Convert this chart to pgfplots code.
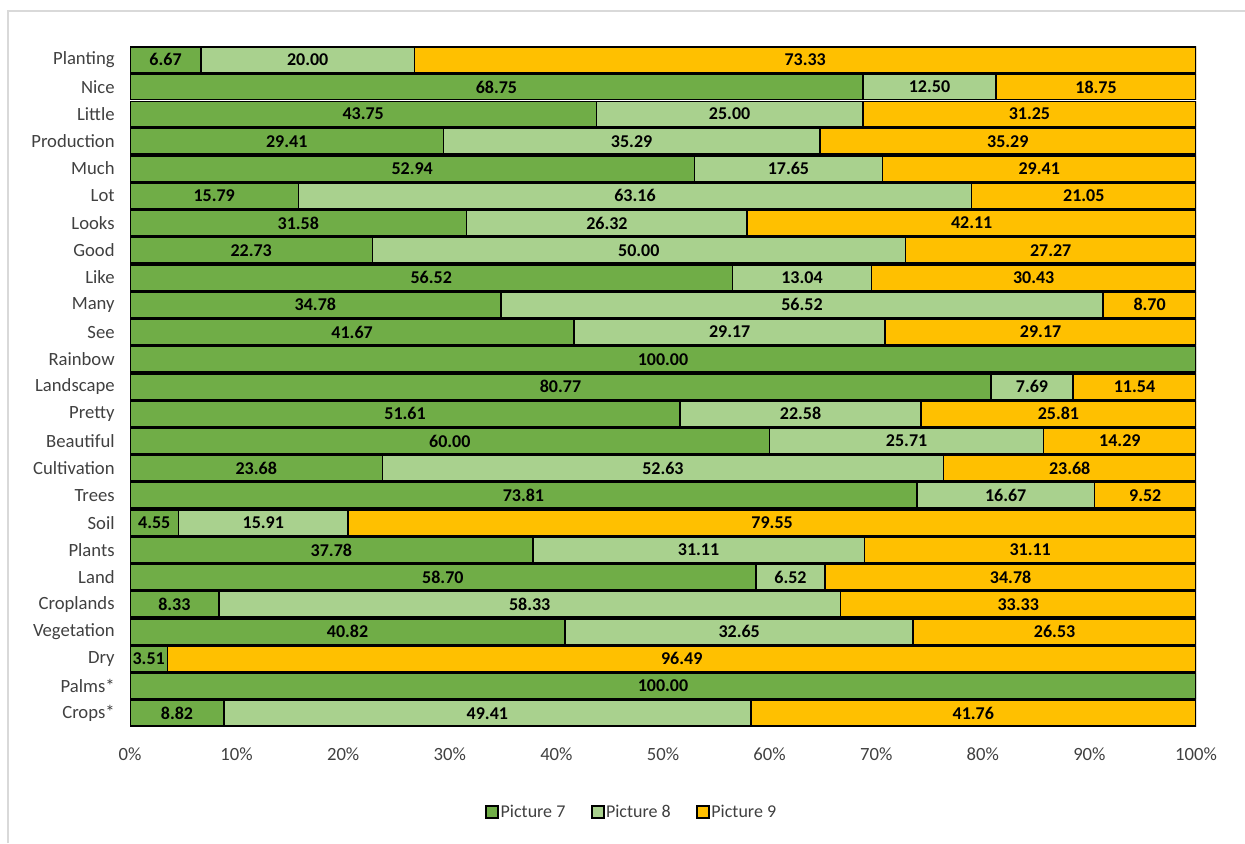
\documentclass[border=0pt]{standalone}
\usepackage{pgfplots}
\usepackage{pgfplotstable}
\pgfplotsset{compat=1.18}
\usepackage{fontspec}
\setmainfont{Carlito}
\definecolor{pic7}{RGB}{112,173,71}
\definecolor{pic8}{RGB}{169,209,142}
\definecolor{pic9}{RGB}{255,192,0}
\definecolor{txt}{RGB}{64,64,64}
\definecolor{frame}{RGB}{217,217,217}

% share of each word per picture (%)
\pgfplotstableread{
name a b c
Planting 6.67 20.00 73.33
Nice 68.75 12.50 18.75
Little 43.75 25.00 31.25
Production 29.41 35.29 35.29
Much 52.94 17.65 29.41
Lot 15.79 63.16 21.05
Looks 31.58 26.32 42.11
Good 22.73 50.00 27.27
Like 56.52 13.04 30.43
Many 34.78 56.52 8.70
See 41.67 29.17 29.17
Rainbow 100.00 0 0
Landscape 80.77 7.69 11.54
Pretty 51.61 22.58 25.81
Beautiful 60.00 25.71 14.29
Cultivation 23.68 52.63 23.68
Trees 73.81 16.67 9.52
Soil 4.55 15.91 79.55
Plants 37.78 31.11 31.11
Land 58.70 6.52 34.78
Croplands 8.33 58.33 33.33
Vegetation 40.82 32.65 26.53
Dry 3.51 0 96.49
Palms* 100.00 0 0
Crops* 8.82 49.41 41.76
}\words

\pgfplotsset{
  frameaxis/.style={
    at={(97.5pt,87pt)}, anchor=south west, scale only axis,
    width=799.5pt, height=510.75pt,
    xmin=0, xmax=100, ymin=-0.5, ymax=24.5, y dir=reverse,
  },
}

\begin{document}
\begin{tikzpicture}
\useasboundingbox (0,0) rectangle (933.75pt,632.25pt);
\draw[frame, line width=2pt] (6pt,0pt) -- (6pt,624pt) -- (933.75pt,624pt);

\begin{axis}[
  frameaxis,
  xbar stacked, bar width=0.94,
  xtick={0,10,...,100},
  xticklabel={\pgfmathprintnumber{\tick}\%},
  ytick={0,...,24},
  yticklabels from table={\words}{name},
  axis line style={draw=none},
  major tick length=0pt,
  /pgf/number format/assume math mode=true,
  tick label style={font=\fontsize{14}{16}\selectfont, text=txt},
  xticklabel style={yshift=-12pt},
  yticklabel style={xshift=-8pt},
  legend columns=3,
  legend style={draw=none, at={(0.471,-0.1248)}, anchor=center,
    font=\fontsize{13.5}{15}\selectfont, text=txt,
    /tikz/every even column/.append style={column sep=17pt},
    /tikz/every odd column/.append style={column sep=-1pt}},
  legend image code/.code={\draw[#1, draw=black, line width=1.5pt] (0pt,-4.5pt) rectangle (9pt,4.5pt);},
]
\addplot[fill=pic7, draw=black, line width=1.2pt] table[x=a, y expr=\coordindex]{\words};
\addplot[fill=pic8, draw=black, line width=1.2pt] table[x=b, y expr=\coordindex]{\words};
\addplot[fill=pic9, draw=black, line width=1.2pt] table[x=c, y expr=\coordindex]{\words};
\legend{Picture 7, Picture 8, Picture 9}
\end{axis}

% value labels centred in each segment
\begin{axis}[
  frameaxis, hide axis,
  point meta=explicit,
  nodes near coords={\pgfmathfloatifflags{\pgfplotspointmeta}{0}{}{\pgfmathprintnumber[fixed,fixed zerofill,precision=2]{\pgfplotspointmeta}}},
  nodes near coords align={center},
  every node near coord/.append style={anchor=center, text=black,
    font=\bfseries\fontsize{13.5}{15}\selectfont,
    /pgf/number format/assume math mode=true},
]
\addplot[draw=none, mark=none] table[x expr=\thisrow{a}/2, y expr=\coordindex, meta=a]{\words};
\addplot[draw=none, mark=none] table[x expr=\thisrow{a}+\thisrow{b}/2, y expr=\coordindex, meta=b]{\words};
\addplot[draw=none, mark=none] table[x expr=\thisrow{a}+\thisrow{b}+\thisrow{c}/2, y expr=\coordindex, meta=c]{\words};
\end{axis}
\end{tikzpicture}
\end{document}
